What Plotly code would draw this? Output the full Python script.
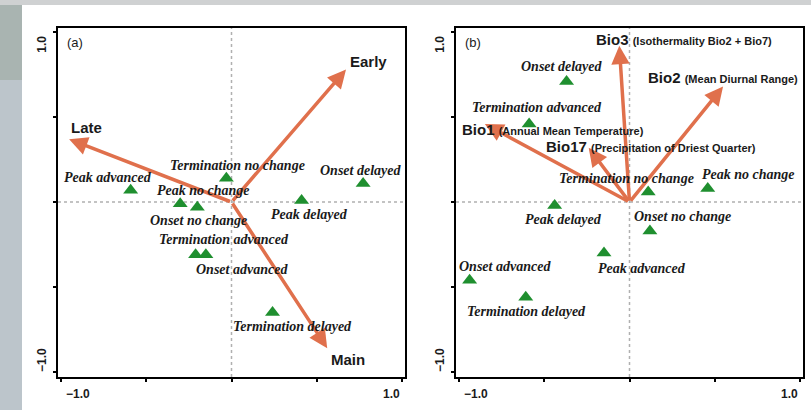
import plotly.graph_objects as go

# ---- Panel (a): phenological response categories vs. phenology axes ----
a_labels = ["Peak advanced", "Termination no change", "Onset delayed", "Peak no change",
            "Onset no change", "Peak delayed", "Termination advanced", "Onset advanced",
            "Termination delayed"]
a_x = [-0.59, -0.03, 0.77, -0.30, -0.20, 0.41, -0.21, -0.15, 0.24]
a_y = [0.07, 0.14, 0.11, -0.01, -0.03, 0.01, -0.31, -0.31, -0.65]

a_vec_names = ["Late", "Early", "Main"]
a_vec_x = [-0.95, 0.67, 0.56]
a_vec_y = [0.37, 0.78, -0.86]

# ---- Panel (b): phenological response categories vs. bioclimatic variables ----
b_labels = ["Onset delayed", "Termination advanced", "Termination no change", "Peak no change",
            "Peak delayed", "Onset no change", "Peak advanced", "Onset advanced",
            "Termination delayed"]
b_x = [-0.37, -0.59, 0.11, 0.46, -0.44, 0.12, -0.15, -0.94, -0.61]
b_y = [0.71, 0.46, 0.06, 0.08, -0.02, -0.17, -0.30, -0.46, -0.56]

b_vec_names = ["Bio1", "Bio17", "Bio3", "Bio2"]
b_vec_desc = ["(Annual Mean Temperature)", "(Precipitation of Driest Quarter)",
              "(Isothermality Bio2 + Bio7)", "(Mean Diurnal Range)"]
b_vec_x = [-0.85, -0.24, -0.06, 0.55]
b_vec_y = [0.46, 0.32, 0.92, 0.68]

axis_ticks = [-1.0, -0.5, 0.0, 0.5, 1.0]

# label placement offsets in pixels (dx right, dy down)
a_lab_off = [(-23, -13), (11, -13), (-3, -13), (23, -13), (1, 13), (8, 14), (28, -15), (36, 15), (20, 14)]
b_lab_off = [(-5, -15), (8, -16), (-22, -13), (41, -14), (9, 14), (33, -14), (38, 15), (35, -14), (1, 14)]
a_vec_off = [(17, -12), (22, -8), (21, 11)]
b_vec_off = [(-25, 6), (-45, -1), (-25, -6), (-77, -9)]

W, H = 811, 410
ARROW = "#E0704C"
GREEN = "#1F8F2F"
INK = "#1a1a1a"
SERIF = "Liberation Serif"
SANS = "Liberation Sans"

fig = go.Figure()

fig.add_trace(go.Scatter(x=a_x, y=a_y, mode="markers", xaxis="x", yaxis="y",
                         marker=dict(symbol="triangle-up", size=13, color=GREEN),
                         hoverinfo="skip", showlegend=False))
fig.add_trace(go.Scatter(x=b_x, y=b_y, mode="markers", xaxis="x2", yaxis="y2",
                         marker=dict(symbol="triangle-up", size=13, color=GREEN),
                         hoverinfo="skip", showlegend=False))

dom_a = [58 / W, 405 / W]
dom_b = [456 / W, 803 / W]
dom_y = [1 - 377 / H, 1 - 28 / H]

ax_common = dict(showgrid=False, zeroline=False, showline=True, mirror=True,
                 linecolor="black", linewidth=2, ticks="outside", ticklen=3,
                 tickcolor="black", tickwidth=1.5, tickvals=axis_ticks,
                 showticklabels=False, fixedrange=True)

fig.update_layout(
    width=W, height=H, margin=dict(l=0, r=0, t=0, b=0),
    paper_bgcolor="white", plot_bgcolor="white",
    xaxis=dict(domain=dom_a, range=[-1.015, 1.015], anchor="y", **ax_common),
    yaxis=dict(domain=dom_y, range=[-1.03, 1.025], anchor="x", **ax_common),
    xaxis2=dict(domain=dom_b, range=[-1.02, 1.02], anchor="y2", **ax_common),
    yaxis2=dict(domain=dom_y, range=[-1.03, 1.025], anchor="x2", **ax_common),
)

shapes = []
# screen edge strips around the figure
shapes.append(dict(type="rect", xref="paper", yref="paper", x0=0, x1=22 / W, y0=0, y1=1,
                   fillcolor="#bcc5cb", line=dict(width=0), layer="below"))
shapes.append(dict(type="rect", xref="paper", yref="paper", x0=0, x1=22 / W, y0=1 - 80 / H, y1=1,
                   fillcolor="#a9b4b1", line=dict(width=0), layer="below"))
shapes.append(dict(type="rect", xref="paper", yref="paper", x0=0, x1=1, y0=1 - 5 / H, y1=1,
                   fillcolor="#cfd1d2", line=dict(width=0), layer="below"))
# dotted origin lines
for xr, yr in (("x", "y"), ("x2", "y2")):
    shapes.append(dict(type="line", xref=xr, yref=f"{yr} domain", x0=0, x1=0, y0=0, y1=1,
                       line=dict(color="#b0b0b0", width=1.5, dash="dot"), layer="below"))
    shapes.append(dict(type="line", xref=f"{xr} domain", yref=yr, x0=0, x1=1, y0=0, y1=0,
                       line=dict(color="#b0b0b0", width=1.5, dash="dot"), layer="below"))
fig.update_layout(shapes=shapes)

ann = []

def arrows(xr, yr, vx, vy):
    for x, y in zip(vx, vy):
        ann.append(dict(x=x, y=y, ax=0, ay=0, xref=xr, yref=yr, axref=xr, ayref=yr,
                        text="", showarrow=True, arrowhead=2, arrowsize=1.05,
                        arrowwidth=3.5, arrowcolor=ARROW))

def point_labels(xr, yr, px, py, names, offs):
    for x, y, t, (dx, dy) in zip(px, py, names, offs):
        ann.append(dict(x=x, y=y, xref=xr, yref=yr, text=f"<b><i>{t}</i></b>",
                        showarrow=False, xshift=dx, yshift=-dy,
                        font=dict(family=SERIF, size=14, color=INK)))

arrows("x", "y", a_vec_x, a_vec_y)
arrows("x2", "y2", b_vec_x, b_vec_y)
point_labels("x", "y", a_x, a_y, a_labels, a_lab_off)
point_labels("x2", "y2", b_x, b_y, b_labels, b_lab_off)

for x, y, t, (dx, dy) in zip(a_vec_x, a_vec_y, a_vec_names, a_vec_off):
    ann.append(dict(x=x, y=y, xref="x", yref="y", text=f"<b>{t}</b>", showarrow=False,
                    xshift=dx, yshift=-dy, font=dict(family=SANS, size=15, color=INK)))

for x, y, t, d, (dx, dy) in zip(b_vec_x, b_vec_y, b_vec_names, b_vec_desc, b_vec_off):
    ann.append(dict(x=x, y=y, xref="x2", yref="y2", xanchor="left",
                    text=f"<b>{t}</b> <span style='font-size:11px'><b>{d}</b></span>",
                    showarrow=False, xshift=dx, yshift=-dy,
                    font=dict(family=SANS, size=15, color=INK)))

# panel tags and end-of-axis labels
for xr, yr, tag in (("x", "y", "(a)"), ("x2", "y2", "(b)")):
    ann.append(dict(x=-1.0, y=1.0, xref=xr, yref=yr, text=tag, showarrow=False,
                    xanchor="left", xshift=4, yshift=-10,
                    font=dict(family=SANS, size=13, color=INK)))
    ann.append(dict(x=-1.0, y=0, xref=xr, yref=f"{yr} domain", text="<b>\u22121.0</b>",
                    showarrow=False, xanchor="left", yanchor="top", xshift=3, yshift=-8,
                    font=dict(family=SANS, size=12, color=INK)))
    ann.append(dict(x=1.0, y=0, xref=xr, yref=f"{yr} domain", text="<b>1.0</b>",
                    showarrow=False, xanchor="right", yanchor="top", yshift=-8,
                    font=dict(family=SANS, size=12, color=INK)))
    ann.append(dict(x=0, y=1.0, xref=f"{xr} domain", yref=yr, text="<b>1.0</b>",
                    showarrow=False, textangle=-90, xanchor="right", yanchor="top",
                    xshift=-7, yshift=-2,
                    font=dict(family=SANS, size=12, color=INK)))
    ann.append(dict(x=0, y=-1.0, xref=f"{xr} domain", yref=yr, text="<b>\u22121.0</b>",
                    showarrow=False, textangle=-90, xanchor="right", yanchor="bottom",
                    xshift=-7, yshift=-2,
                    font=dict(family=SANS, size=12, color=INK)))

fig.update_layout(annotations=ann)
fig.write_html("out.html")
